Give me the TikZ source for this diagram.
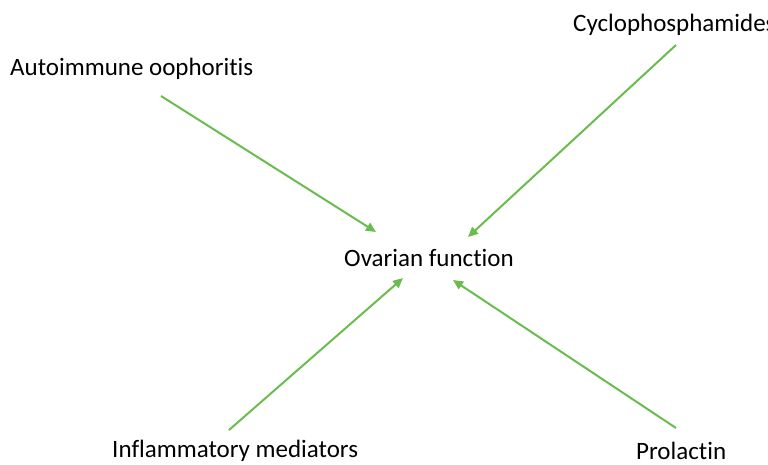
\documentclass[tikz,border=0pt]{standalone}
\usepackage{fontspec}
\setmainfont{Carlito}[RawFeature=-liga]
\usetikzlibrary{arrows.meta}
\definecolor{leafgreen}{RGB}{106,188,78}

\begin{document}
\begin{tikzpicture}[x=1pt,y=-1pt,every node/.style={inner sep=0pt,
      font=\fontsize{25}{30}\selectfont},
      >={Triangle[width=9pt,length=10pt]},
      link/.style={->,line width=2pt,leafgreen}]
      \useasboundingbox(0,0)rectangle(768,464);
      \node[anchor=base west](ovary)at(344,266){Ovarian function};
      \node[anchor=base west](autoimm)at(10,75){Autoimmune oophoritis};
      \node[anchor=base west](cyclo)at(573,31){Cyclophosphamides};
      \node[anchor=base west](inflam)at(112,457){Inflammatory mediators};
      \node[anchor=base west](prol)at(636,459){Prolactin};
      % arrow ends
      \coordinate(autoimm-out)at(161,96);
      \coordinate(cyclo-out)at(676,45);
      \coordinate(inflam-out)at(229,430);
      \coordinate(prol-out)at(676,428);
      \coordinate(ovary-nw)at(376,232);
      \coordinate(ovary-ne)at(468,237);
      \coordinate(ovary-sw)at(403,278);
      \coordinate(ovary-se)at(453,280);
      \draw[link](autoimm-out)--(ovary-nw);
      \draw[link](cyclo-out)--(ovary-ne);
      \draw[link](inflam-out)--(ovary-sw);
      \draw[link](prol-out)--(ovary-se);
   \end{tikzpicture}
\end{document}
